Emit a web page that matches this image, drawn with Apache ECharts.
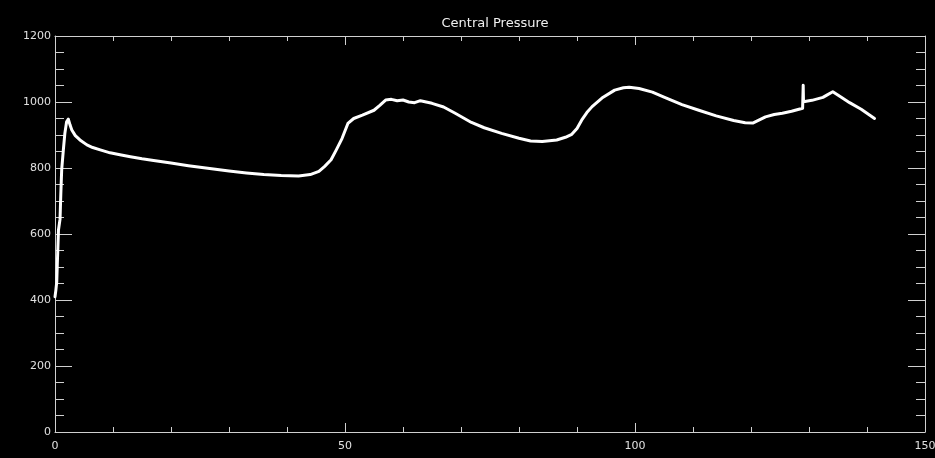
<!DOCTYPE html>
<html>
<head>
<meta charset="utf-8">
<script src="https://cdn.jsdelivr.net/npm/echarts@6/dist/echarts.min.js"></script>
<style>html,body{margin:0;padding:0;background:#000;}#c{width:935px;height:458px;}</style>
</head>
<body>
<div id="c"></div>
<script>
const titleText = "Central Pressure";
const xValues = [0,0.15,0.3,0.4,0.5,0.6,0.87,1.0,1.15,1.44,1.7,2.0,2.3,2.6,2.9,3.5,4.3,5.5,6.5,7.8,9.5,11.2,13,15,17,20,23,26,30,33,36,39,42,44,45.5,46.5,47.6,48.5,49.5,50.5,51.5,53,55,56,57,58,59,60,61,62,63,64,65,67,69,71.8,74,77,80,82,84,86.5,88,89.1,90,90.8,91.7,92.6,94.3,96.5,98,99,100.7,103,105,108.1,111,114,117,119,120.3,121,122.5,124,125.4,127,128.9,129,129.05,130.5,132.4,133,134.1,135.5,137,139,141.3];
const pressure = [410,430,455,510,560,612,645,720,794,855,905,940,948,930,915,898,885,870,862,855,846,840,834,828,823,815,807,800,791,785,780,777,776,780,790,805,825,855,890,935,950,960,975,990,1006,1008,1004,1006,1000,998,1004,1000,996,985,966,938,922,905,890,882,880,885,893,902,920,945,968,986,1012,1036,1043,1045,1041,1030,1015,992,975,958,944,937,936,942,955,962,966,972,981,1051,1001,1005,1014,1020,1031,1015,998,978,950];
const xTicks = [0,50,100,150];
const yTicks = [0,200,400,600,800,1000,1200];

const data = xValues.map((x,i)=>[x,pressure[i]]);
const fontFamily = "DejaVu Sans";
const axisColor = "#d0d0d0";

function xAxisDef(pos, showLabel){
  return {
    type:'value', position:pos, min:0, max:150, interval:50,
    axisLine:{show:true, onZero:false, lineStyle:{color:axisColor,width:1}},
    axisTick:{show:true, inside:true, length:9, lineStyle:{color:axisColor}},
    minorTick:{show:true, splitNumber:5, length:5, lineStyle:{color:axisColor}},
    splitLine:{show:false},
    axisLabel:{show:showLabel, color:'#e0e0e0', fontFamily:fontFamily, fontSize:11, margin:9,
      formatter:(v)=> xTicks.includes(v)? String(v):''}
  };
}
function yAxisDef(pos, showLabel){
  return {
    type:'value', position:pos, min:0, max:1200, interval:200,
    axisLine:{show:true, onZero:false, lineStyle:{color:axisColor,width:1}},
    axisTick:{show:true, inside:true, length:17, lineStyle:{color:axisColor}},
    minorTick:{show:true, splitNumber:4, length:9, lineStyle:{color:axisColor}},
    splitLine:{show:false},
    axisLabel:{show:showLabel, color:'#e0e0e0', fontFamily:fontFamily, fontSize:11, margin:4,
      formatter:(v)=> yTicks.includes(v)? String(v):''}
  };
}

const chart = echarts.init(document.getElementById('c'), null, {renderer:'canvas'});
chart.setOption({
  backgroundColor:'#000',
  animation:false,
  title:{text:titleText, left:490, top:12, textAlign:'center',
    textStyle:{color:'#f0f0f0', fontFamily:fontFamily, fontSize:13, fontWeight:'normal'}},
  grid:{left:55, right:10, top:36, bottom:26, containLabel:false, outerBoundsMode:'none'},
  xAxis:[xAxisDef('bottom', true), xAxisDef('top', false)],
  yAxis:[yAxisDef('left', true), yAxisDef('right', false)],
  series:[{
    type:'line', xAxisIndex:0, yAxisIndex:0, data:data,
    showSymbol:false, symbol:'none', smooth:false,
    lineStyle:{color:'#ffffff', width:3, join:'round', cap:'round'}
  }]
});
</script>
</body>
</html>
